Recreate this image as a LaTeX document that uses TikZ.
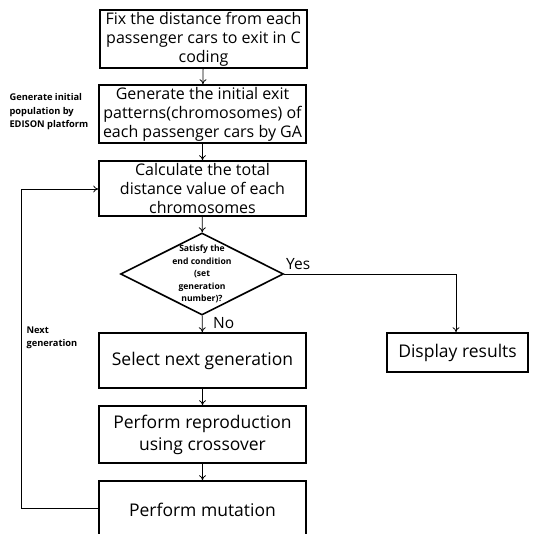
\documentclass[tikz,border=0pt]{standalone}
\usepackage{fontspec}
\setmainfont{Open Sans}
\usetikzlibrary{shapes.geometric,arrows.meta}
\begin{document}
\begin{tikzpicture}[x=1pt,y=-1pt,
  box/.style={draw,line width=1.6pt,minimum width=207pt,inner sep=1pt,align=center,font=\fontsize{16}{19}\selectfont},
  bigbox/.style={box,font=\fontsize{17.5}{22}\selectfont},
  cond/.style={draw,diamond,line width=1.6pt,minimum width=163pt,minimum height=82pt,inner sep=0pt},
  side/.style={align=left,font=\bfseries\fontsize{9.3}{13.5}\selectfont},
  arr/.style={-{To[length=5pt,width=7pt]},line width=0.8pt},
  lbl/.style={font=\fontsize{15.5}{18}\selectfont,inner sep=0pt}]
\clip (0,0) rectangle (537,534);
\fill[white] (0,0) rectangle (537,534);
\node[box,minimum height=58pt] (b1) at (203.5,39) {Fix the distance from each\\passenger cars to exit in C\\coding};
\node[box,minimum height=58pt] (b2) at (202.5,114) {Generate the initial exit\\patterns(chromosomes) of\\each passenger cars by GA};
\node[box,minimum height=55pt] (b3) at (202.5,188.5) {Calculate the total\\distance value of each\\chromosomes};
\node[cond] (d) at (202,274) {};
\node[align=center,font=\bfseries\fontsize{8.6}{12.5}\selectfont] (dt) at (202,274) {Satisfy the\\end condition\\(set\\generation\\number)?};
\node[bigbox,minimum height=55pt] (b4) at (202.5,360.5) {Select next generation};
\node[bigbox,minimum height=57pt] (b5) at (202.5,434.5) {Perform reproduction\\using crossover};
\node[bigbox,minimum height=58pt] (b6) at (202.5,510) {Perform mutation};
\node[bigbox,minimum width=141pt,minimum height=39pt] (b7) at (457.5,352.5) {Display results};
\node[side,anchor=west] (s1) at (6,112) {Generate initial\\population by\\EDISON platform};
\node[side,anchor=west] (s2) at (23,338) {Next\\generation};
\node[lbl,anchor=west] (yes) at (286,264) {Yes};
\node[lbl,anchor=west] (no) at (213,323) {No};
\coordinate (c1) at (21,508);
\coordinate (c2) at (21,189);
\coordinate (c3) at (456,274);
\draw[arr] (b1) -- (b2);
\draw[arr] (b2) -- (b3);
\draw[arr] (b3) -- (d);
\draw[arr] (d) -- (b4);
\draw[arr] (b4) -- (b5);
\draw[arr] (b5) -- (b6);
\draw[arr] (d.east) -- (c3) -- (c3 |- b7.north);
\draw[arr] (b6.west |- c1) -- (c1) -- (c2) -- (b3.west |- c2);
\end{tikzpicture}
\end{document}
